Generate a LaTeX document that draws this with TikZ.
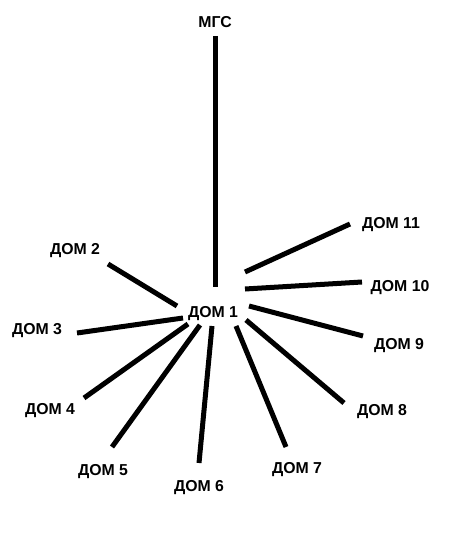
\documentclass[tikz,border=0pt]{standalone}
\usepackage{fontspec}
\setmainfont{Liberation Sans}
\usepackage{tikz}
\usetikzlibrary{positioning}
\tikzset{>=latex}
\tikzstyle{dom} = [rectangle, draw=none, inner sep=0pt, font=\bfseries\fontsize{9}{10}\selectfont]
\tikzstyle{wire} = [-, draw=black, line width=2.85pt]

\begin{document}
\begin{tikzpicture}[x=0.02cm, y=-0.02cm]
\useasboundingbox (0,0) rectangle (456,533);
\node [dom] (mgs) at (215, 22) {МГС};
\node [dom] (d1) at (213, 314) {ДОМ 1};
\node [dom] (d2) at (75, 251) {ДОМ 2};
\node [dom] (d3) at (37, 331) {ДОМ 3};
\node [dom] (d4) at (50, 411) {ДОМ 4};
\node [dom] (d5) at (103, 472) {ДОМ 5};
\node [dom] (d6) at (199, 488) {ДОМ 6};
\node [dom] (d7) at (297, 470) {ДОМ 7};
\node [dom] (d8) at (382, 412) {ДОМ 8};
\node [dom] (d9) at (399, 346) {ДОМ 9};
\node [dom] (d10) at (400, 288) {ДОМ 10};
\node [dom] (d11) at (391, 225) {ДОМ 11};
% line ends
\coordinate (mgsend) at (215, 36);
\coordinate (h0) at (215, 287);
\coordinate (h2) at (177, 306);
\coordinate (e2) at (108, 264);
\coordinate (h3) at (183, 318);
\coordinate (e3) at (77, 333);
\coordinate (h4) at (188, 324);
\coordinate (e4) at (84, 398);
\coordinate (h5) at (200, 325);
\coordinate (e5) at (112, 447);
\coordinate (h6) at (212, 326);
\coordinate (e6) at (199, 463);
\coordinate (h7) at (236, 326);
\coordinate (e7) at (286, 447);
\coordinate (h8) at (246, 320);
\coordinate (e8) at (344, 403);
\coordinate (h9) at (249, 306);
\coordinate (e9) at (363, 336);
\coordinate (h10) at (245, 289);
\coordinate (e10) at (362, 282);
\coordinate (h11) at (245, 272);
\coordinate (e11) at (350, 224);
\draw [wire] (mgsend) -- (h0);
\draw [wire] (h2) -- (e2);
\draw [wire] (h3) -- (e3);
\draw [wire] (h4) -- (e4);
\draw [wire] (h5) -- (e5);
\draw [wire] (h6) -- (e6);
\draw [wire] (h7) -- (e7);
\draw [wire] (h8) -- (e8);
\draw [wire] (h9) -- (e9);
\draw [wire] (h10) -- (e10);
\draw [wire] (h11) -- (e11);
\end{tikzpicture}
\end{document}
